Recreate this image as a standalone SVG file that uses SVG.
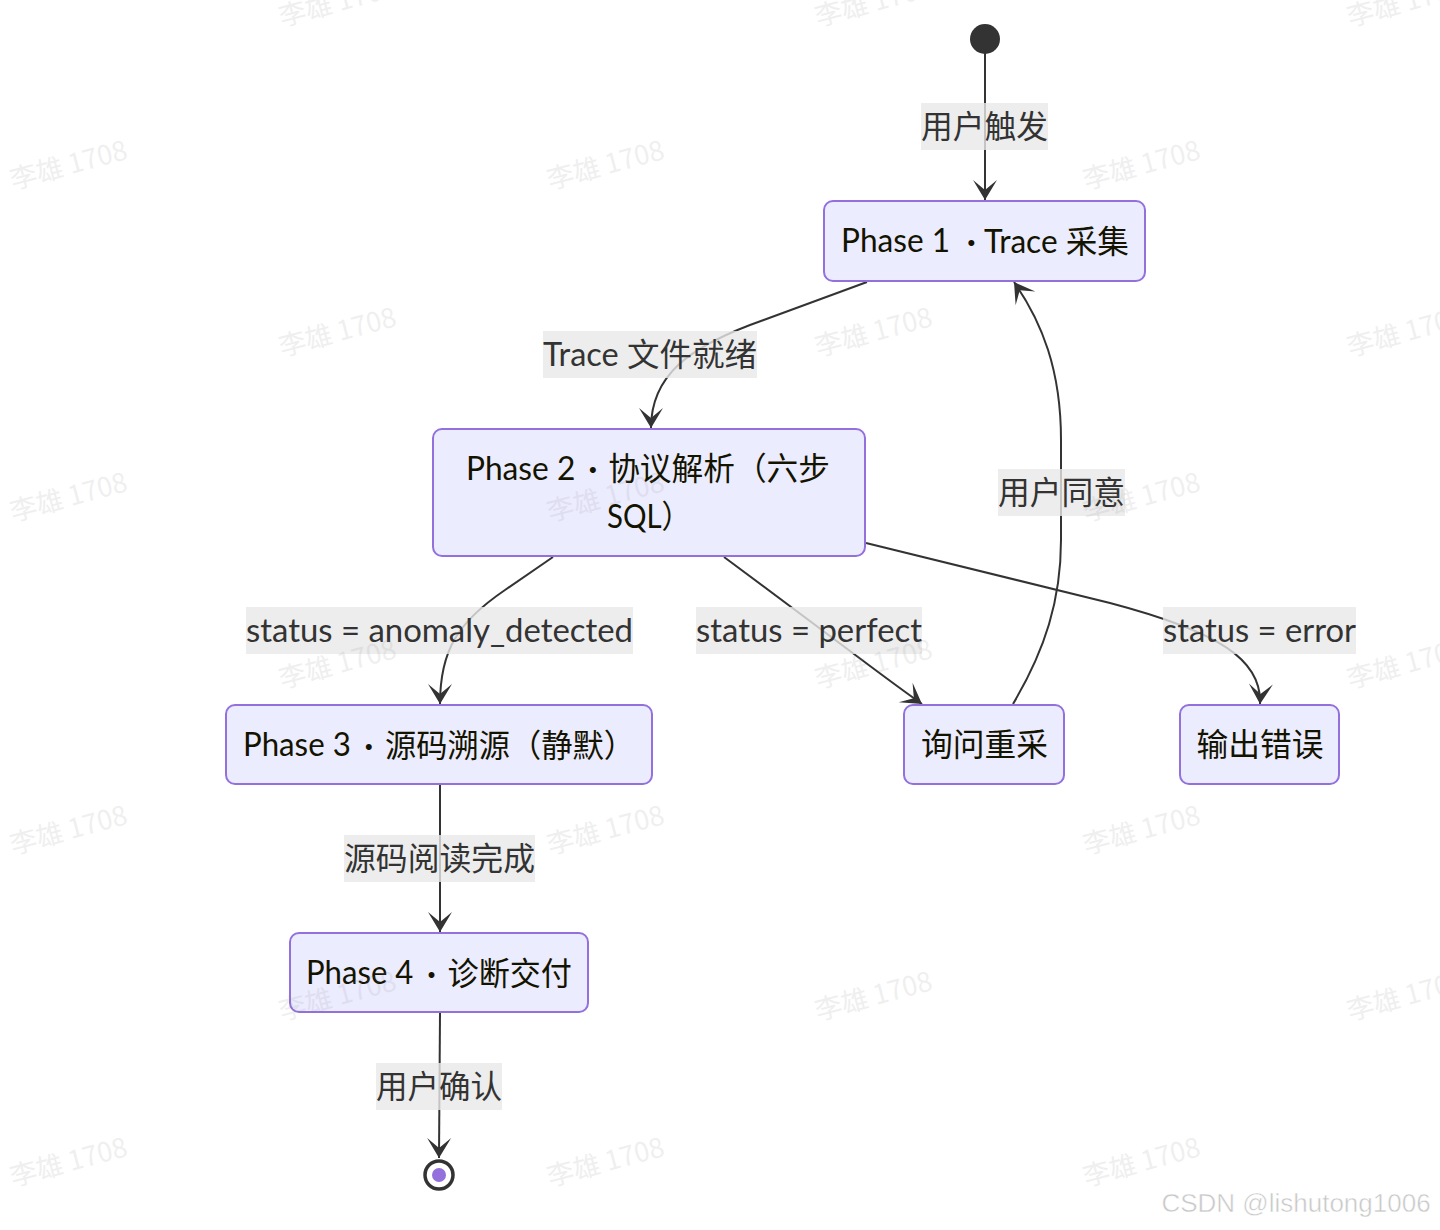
<svg xmlns="http://www.w3.org/2000/svg" width="1440" height="1230" viewBox="0 0 1440 1230">
<defs>
<marker id="barb" markerUnits="userSpaceOnUse" viewBox="0 0 20 14" markerWidth="40" markerHeight="28" refX="19" refY="7" orient="auto">
<path d="M19,7 L9,13 L14,7 L9,1 Z" fill="#333"/>
</marker>
<style>
.node rect{fill:#ECECFF;stroke:#9370DB;stroke-width:2}
.nt{font-family:"Lato","Noto Sans CJK SC",sans-serif;font-size:32px;fill:#131300;text-anchor:middle;dominant-baseline:central}
.edge{fill:none;stroke:#333;stroke-width:2;marker-end:url(#barb)}
.lb rect{fill:#e8e8e8;opacity:0.8}
.lt{font-family:"Lato","Noto Sans CJK SC",sans-serif;font-size:32px;fill:#333;text-anchor:middle;dominant-baseline:central}
.wm{font-family:"Noto Sans CJK SC","Liberation Sans",sans-serif;font-size:27px;fill:#888;opacity:0.13;text-anchor:middle;dominant-baseline:central}
.dot{font-weight:bold}
</style>
</defs>
<rect width="1440" height="1230" fill="#fff"/>

<g id="edges">
<path class="edge" d="M985,53 L985,200"/>
<path class="edge" d="M867,282 L750,325 C690,348 651,375 651,428"/>
<path class="edge" d="M553,557 L505,590 C458,622 440,650 440,704"/>
<path class="edge" d="M724,557 L858,657 C890,681 905,692 922,704"/>
<path class="edge" d="M866,543 L1110,603 C1220,632 1262,660 1260,704"/>
<path class="edge" d="M1013,704 C1045,650 1061,600 1061,540 L1061,440 C1061,370 1042,322 1014,282"/>
<path class="edge" d="M440,785 L440,932"/>
<path class="edge" d="M440,1013 L439,1158"/>
</g>

<g id="edge-labels">
<g class="lb"><rect x="921" y="103" width="127" height="47"/><text class="lt" x="984.5" y="125.5" textLength="127" lengthAdjust="spacingAndGlyphs">用户触发</text></g>
<g class="lb"><rect x="543" y="331" width="214" height="47"/><text class="lt" x="650" y="353.5" textLength="214" lengthAdjust="spacingAndGlyphs">Trace 文件就绪</text></g>
<g class="lb"><rect x="246" y="607" width="387" height="47"/><text class="lt" x="439.5" y="629.5" textLength="387" lengthAdjust="spacingAndGlyphs">status = anomaly_detected</text></g>
<g class="lb"><rect x="696" y="607" width="226" height="47"/><text class="lt" x="809" y="629.5" textLength="226" lengthAdjust="spacingAndGlyphs">status = perfect</text></g>
<g class="lb"><rect x="1163" y="607" width="193" height="47"/><text class="lt" x="1259.5" y="629.5" textLength="193" lengthAdjust="spacingAndGlyphs">status = error</text></g>
<g class="lb"><rect x="998" y="469" width="127" height="47"/><text class="lt" x="1061.5" y="491.5" textLength="127" lengthAdjust="spacingAndGlyphs">用户同意</text></g>
<g class="lb"><rect x="344" y="835" width="191" height="47"/><text class="lt" x="439.5" y="857.5" textLength="191" lengthAdjust="spacingAndGlyphs">源码阅读完成</text></g>
<g class="lb"><rect x="376" y="1063" width="126" height="47"/><text class="lt" x="439" y="1085.5" textLength="126" lengthAdjust="spacingAndGlyphs">用户确认</text></g>
</g>

<g id="start"><circle cx="985" cy="39" r="15" fill="#333"/></g>

<g id="phase1" class="node"><rect x="824" y="201" width="321" height="80" rx="9"/><text class="nt" x="985" y="239.5" textLength="288" lengthAdjust="spacingAndGlyphs">Phase 1 <tspan class="dot" dx="9">·</tspan><tspan dx="1"> Trace 采集</tspan></text></g>

<g id="phase2" class="node"><rect x="433" y="429" width="432" height="127" rx="9"/>
<text class="nt" x="648" y="467" textLength="364" lengthAdjust="spacingAndGlyphs">Phase 2 <tspan class="dot" dx="5">·</tspan><tspan dx="3"> 协议解析（六步</tspan></text>
<text class="nt" x="649" y="515" textLength="84" lengthAdjust="spacingAndGlyphs">SQL）</text></g>

<g id="phase3" class="node"><rect x="226" y="705" width="426" height="79" rx="9"/><text class="nt" x="439" y="743.5" textLength="392" lengthAdjust="spacingAndGlyphs">Phase 3 <tspan class="dot" dx="6">·</tspan><tspan dx="4"> 源码溯源（静默）</tspan></text></g>

<g id="ask" class="node"><rect x="904" y="705" width="160" height="79" rx="9"/><text class="nt" x="984.5" y="743.5" textLength="127" lengthAdjust="spacingAndGlyphs">询问重采</text></g>

<g id="error" class="node"><rect x="1180" y="705" width="159" height="79" rx="9"/><text class="nt" x="1260" y="743.5" textLength="127" lengthAdjust="spacingAndGlyphs">输出错误</text></g>

<g id="phase4" class="node"><rect x="290" y="933" width="298" height="79" rx="9"/><text class="nt" x="439" y="971.5" textLength="266" lengthAdjust="spacingAndGlyphs">Phase 4 <tspan class="dot" dx="6">·</tspan><tspan dx="4"> 诊断交付</tspan></text></g>

<g id="end"><circle cx="439" cy="1175" r="14" fill="#fff" stroke="#333" stroke-width="3.5"/><circle cx="439" cy="1175" r="7" fill="#9370DB"/></g>

<g id="watermarks">
<text class="wm" x="337" y="0" transform="rotate(-15 337 0)">李雄 1708</text>
<text class="wm" x="873" y="0" transform="rotate(-15 873 0)">李雄 1708</text>
<text class="wm" x="1405" y="0" transform="rotate(-15 1405 0)">李雄 1708</text>
<text class="wm" x="68" y="163" transform="rotate(-15 68 163)">李雄 1708</text>
<text class="wm" x="605" y="163" transform="rotate(-15 605 163)">李雄 1708</text>
<text class="wm" x="1141" y="163" transform="rotate(-15 1141 163)">李雄 1708</text>
<text class="wm" x="337" y="330" transform="rotate(-15 337 330)">李雄 1708</text>
<text class="wm" x="873" y="330" transform="rotate(-15 873 330)">李雄 1708</text>
<text class="wm" x="1405" y="330" transform="rotate(-15 1405 330)">李雄 1708</text>
<text class="wm" x="68" y="495" transform="rotate(-15 68 495)">李雄 1708</text>
<text class="wm" x="605" y="495" transform="rotate(-15 605 495)">李雄 1708</text>
<text class="wm" x="1141" y="495" transform="rotate(-15 1141 495)">李雄 1708</text>
<text class="wm" x="337" y="662" transform="rotate(-15 337 662)">李雄 1708</text>
<text class="wm" x="873" y="662" transform="rotate(-15 873 662)">李雄 1708</text>
<text class="wm" x="1405" y="662" transform="rotate(-15 1405 662)">李雄 1708</text>
<text class="wm" x="68" y="828" transform="rotate(-15 68 828)">李雄 1708</text>
<text class="wm" x="605" y="828" transform="rotate(-15 605 828)">李雄 1708</text>
<text class="wm" x="1141" y="828" transform="rotate(-15 1141 828)">李雄 1708</text>
<text class="wm" x="337" y="994" transform="rotate(-15 337 994)">李雄 1708</text>
<text class="wm" x="873" y="994" transform="rotate(-15 873 994)">李雄 1708</text>
<text class="wm" x="1405" y="994" transform="rotate(-15 1405 994)">李雄 1708</text>
<text class="wm" x="68" y="1160" transform="rotate(-15 68 1160)">李雄 1708</text>
<text class="wm" x="605" y="1160" transform="rotate(-15 605 1160)">李雄 1708</text>
<text class="wm" x="1141" y="1160" transform="rotate(-15 1141 1160)">李雄 1708</text>
</g>
<text x="1296" y="1212" font-family="Liberation Sans, sans-serif" font-size="26" fill="#c8c8c8" stroke="#fff" stroke-width="0.5" text-anchor="middle">CSDN @lishutong1006</text>
</svg>
